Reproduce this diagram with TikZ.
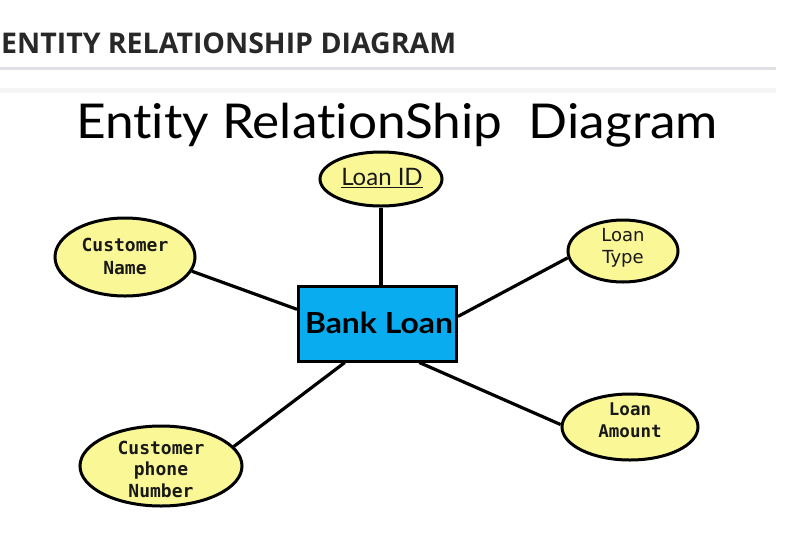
\documentclass[tikz,border=0pt]{standalone}
\usepackage{fontspec}
\usetikzlibrary{shapes.geometric}
\newfontfamily\hdrfont{Open Sans}
\newfontfamily\ttlfont{Lato}[Ligatures=NoCommon]
\newfontfamily\monofont{DejaVu Sans Mono}
\newfontfamily\dvsans{DejaVu Sans}
\definecolor{attrfill}{RGB}{250,248,150}
\definecolor{entfill}{RGB}{10,172,240}
\definecolor{hdrgray}{RGB}{40,40,40}
\definecolor{rulegray}{RGB}{222,224,228}
\tikzset{
  attr/.style={ellipse, draw=black, line width=3pt, fill=attrfill, inner sep=0pt},
  entity/.style={rectangle, draw=black, line width=3pt, fill=entfill, inner sep=0pt,
    minimum width=158pt, minimum height=75pt},
  attrtext/.style={align=center, inner sep=0pt, text=black!90},
  link/.style={line width=3.2pt, black}
}
\begin{document}
\begin{tikzpicture}[x=1pt,y=-1pt]
\useasboundingbox (0,0) rectangle (788,542);
\fill[white] (0,0) rectangle (788,542);
% page header
\node[anchor=base west, inner sep=0pt, text=hdrgray,
  font=\hdrfont\bfseries\fontsize{28.5}{32}\selectfont] (hdr) at (1,53)
  {ENTITY RELATIONSHIP DIAGRAM};
\fill[rulegray] (0,67) rectangle (776,69.5);
\fill[black!4] (0,88) rectangle (776,93);
% title
\node[anchor=base, inner sep=0pt, font=\ttlfont\fontsize{48}{50}\selectfont] (title) at (397,138)
  {\scalebox{1.07}[1]{Entity RelationShip\ \ Diagram}};
% entity
\node[entity] (bank) at (377.5,323.5) {};
\node[inner sep=0pt, font=\ttlfont\bfseries\fontsize{29}{32}\selectfont] (banktxt) at (379,323)
  {\scalebox{1.1}[1]{Bank Loan}};
% attributes
\node[attr, minimum width=122pt, minimum height=54pt] (loanid) at (381,179) {};
\node[attrtext, font=\ttlfont\fontsize{24}{26}\selectfont] (loanidtxt) at (382,178)
  {\underline{Loan ID}};
\node[attr, minimum width=140pt, minimum height=78pt] (cname) at (125,257) {};
\node[attrtext, font=\monofont\bfseries\fontsize{18}{23}\selectfont] (cnametxt) at (125,256)
  {Customer\\Name};
\node[attr, minimum width=110pt, minimum height=62pt] (ltype) at (623,251) {};
\node[attrtext, font=\dvsans\fontsize{18}{22}\selectfont] (ltypetxt) at (623,248)
  {Loan\\Type};
\node[attr, minimum width=136pt, minimum height=66pt] (lamount) at (630,427) {};
\node[attrtext, font=\monofont\bfseries\fontsize{17.5}{22}\selectfont] (lamounttxt) at (630,420)
  {Loan\\Amount};
\node[attr, minimum width=162pt, minimum height=80pt] (cphone) at (161,466) {};
\node[attrtext, font=\monofont\bfseries\fontsize{18}{21.5}\selectfont] (cphonetxt) at (161,469)
  {Customer\\phone\\Number};
% connectors
\draw[link] (loanid.south) -- (loanid.south |- bank.north);
\draw[link] (cname.-12) -- (bank.170);
\draw[link] (ltype.187) -- (bank.5);
\draw[link] (lamount.178) -- (bank.-43.5);
\draw[link] (cphone.15) -- (bank.-130);
\end{tikzpicture}
\end{document}
